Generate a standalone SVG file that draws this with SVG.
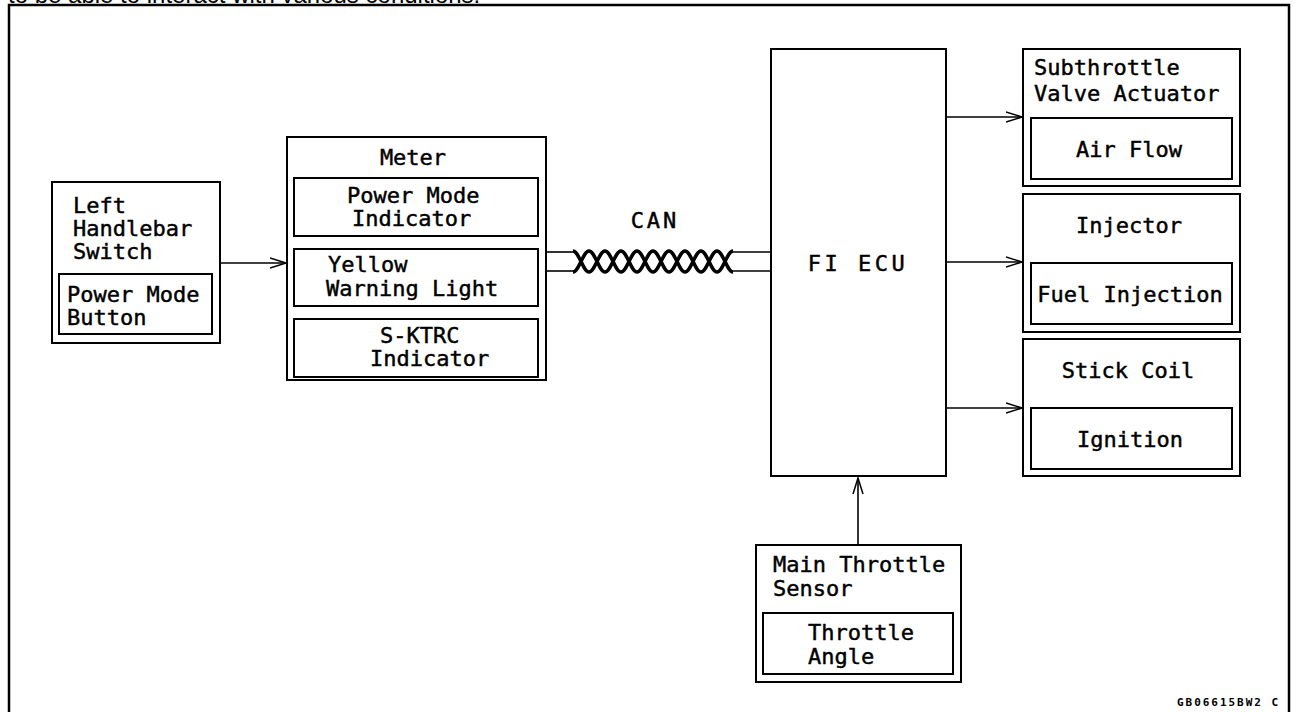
<svg xmlns="http://www.w3.org/2000/svg" width="1296" height="712" viewBox="0 0 1296 712">
<style>
.box{fill:none;stroke:#000;stroke-width:2}
.t{font-family:"DejaVu Sans Mono","Liberation Mono",monospace;font-size:22px;fill:#000;stroke:#000;stroke-width:0.45}
.c{text-anchor:middle}
.ln{fill:none;stroke:#000;stroke-width:1.6}
.tw{fill:none;stroke:#000;stroke-width:3.5}
</style>
<defs>
<marker id="arr" markerUnits="userSpaceOnUse" markerWidth="20" markerHeight="14" refX="16" refY="6" orient="auto">
<path d="M0,1 L16,6 L0,11" fill="none" stroke="#000" stroke-width="1.5"/>
</marker>
</defs>
<rect width="1296" height="712" fill="#fff"/>
<text x="8" y="3" font-family="Liberation Sans, Arial, sans-serif" font-size="24" fill="#000">to be able to interact with various conditions.</text>
<rect x="9" y="5" width="1280" height="720" fill="none" stroke="#000" stroke-width="2.5"/>

<g id="connectors">
<line class="ln" x1="220" y1="263" x2="286" y2="263" marker-end="url(#arr)"/>
<line class="ln" x1="946" y1="117" x2="1022" y2="117" marker-end="url(#arr)"/>
<line class="ln" x1="946" y1="262" x2="1022" y2="262" marker-end="url(#arr)"/>
<line class="ln" x1="946" y1="408" x2="1022" y2="408" marker-end="url(#arr)"/>
<line class="ln" x1="858" y1="545" x2="858" y2="478" marker-end="url(#arr)"/>
<g id="can">
<line class="ln" x1="546" y1="252" x2="574" y2="252"/>
<line class="ln" x1="546" y1="271" x2="574" y2="271"/>
<line class="ln" x1="732" y1="252" x2="771" y2="252"/>
<line class="ln" x1="732" y1="271" x2="771" y2="271"/>
<path class="tw" d="M573,251 C578.8,251 583.2,272 589,272 S599.2,251 605,251 S615.2,272 621,272 S631.2,251 637,251 S647.2,272 653,272 S663.2,251 669,251 S679.2,272 685,272 S695.2,251 701,251 S711.2,272 717,272 S727.2,251 733,251"/>
<path class="tw" d="M573,272 C578.8,272 583.2,251 589,251 S599.2,272 605,272 S615.2,251 621,251 S631.2,272 637,272 S647.2,251 653,251 S663.2,272 669,272 S679.2,251 685,251 S695.2,272 701,272 S711.2,251 717,251 S727.2,272 733,272"/>
<text class="t c" x="655" y="228" letter-spacing="3">CAN</text>
</g>
</g>

<g id="left-switch">
<rect class="box" x="52" y="182" width="168" height="161"/>
<text class="t" x="73" y="213">Left</text>
<text class="t" x="73" y="236">Handlebar</text>
<text class="t" x="73" y="259">Switch</text>
<rect class="box" x="59" y="274" width="153" height="60"/>
<text class="t" x="67" y="302">Power Mode</text>
<text class="t" x="67" y="325">Button</text>
</g>

<g id="meter">
<rect class="box" x="287" y="137" width="259" height="243"/>
<text class="t c" x="413" y="165">Meter</text>
<rect class="box" x="294" y="178" width="244" height="58"/>
<text class="t" x="347" y="203">Power Mode</text>
<text class="t" x="352" y="226">Indicator</text>
<rect class="box" x="294" y="249" width="244" height="57"/>
<text class="t" x="328" y="272">Yellow</text>
<text class="t" x="326" y="296">Warning Light</text>
<rect class="box" x="294" y="319" width="244" height="58"/>
<text class="t" x="380" y="343">S-KTRC</text>
<text class="t" x="370" y="366">Indicator</text>
</g>

<g id="fi-ecu">
<rect class="box" x="771" y="49" width="175" height="427"/>
<text class="t c" x="858" y="271" letter-spacing="3.5">FI ECU</text>
</g>

<g id="subthrottle">
<rect class="box" x="1023" y="49" width="217" height="137"/>
<text class="t" x="1034" y="75">Subthrottle</text>
<text class="t" x="1034" y="101">Valve Actuator</text>
<rect class="box" x="1031" y="118" width="201" height="61"/>
<text class="t c" x="1129" y="157">Air Flow</text>
</g>

<g id="injector">
<rect class="box" x="1023" y="194" width="217" height="138"/>
<text class="t c" x="1129" y="233">Injector</text>
<rect class="box" x="1031" y="263" width="201" height="61"/>
<text class="t c" x="1130" y="302">Fuel Injection</text>
</g>

<g id="stick-coil">
<rect class="box" x="1023" y="339" width="217" height="137"/>
<text class="t c" x="1128" y="378">Stick Coil</text>
<rect class="box" x="1031" y="408" width="201" height="61"/>
<text class="t c" x="1130" y="447">Ignition</text>
</g>

<g id="main-throttle">
<rect class="box" x="756" y="545" width="205" height="137"/>
<text class="t" x="773" y="572">Main Throttle</text>
<text class="t" x="773" y="596">Sensor</text>
<rect class="box" x="763" y="613" width="190" height="61"/>
<text class="t" x="808" y="640">Throttle</text>
<text class="t" x="808" y="664">Angle</text>
</g>

<text x="1177" y="706" font-family="DejaVu Sans Mono, monospace" font-size="11" font-weight="bold" textLength="101" lengthAdjust="spacing" fill="#000">GB06615BW2 C</text>
</svg>
